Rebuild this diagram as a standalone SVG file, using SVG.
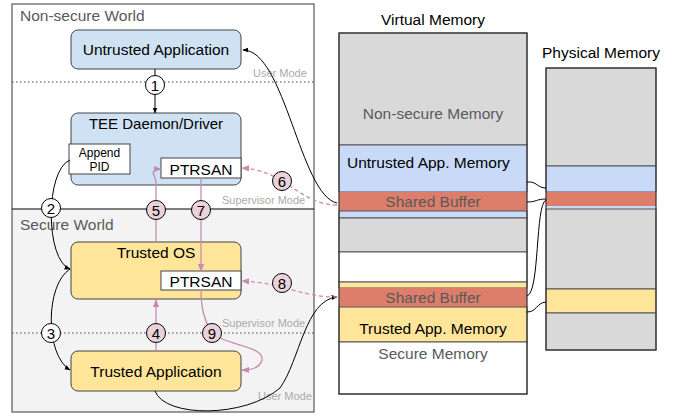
<svg xmlns="http://www.w3.org/2000/svg" width="678" height="416" viewBox="0 0 678 416">
  <style>
    text { font-family: "Liberation Sans", Arial, sans-serif; }
    .box { stroke: #434343; stroke-width: 1; }
    .blue { fill: #cfe2f3; }
    .yellow { fill: #ffe599; }
    .lbl { font-size: 15.5px; fill: #000; text-anchor: middle; }
    .world { font-size: 15.5px; fill: #595959; }
    .mode { font-size: 11px; fill: #aaaaaa; }
    .dot { stroke: #444; stroke-width: 1; stroke-dasharray: 1.5 2.5; fill: none; }
    .step { stroke: #000; stroke-width: 1; }
    .step-w { fill: #fff; }
    .step-p { fill: #ead1dc; }
    .num { font-size: 15px; text-anchor: middle; fill: #000; }
    .blk { stroke: #000; stroke-width: 1; fill: none; }
    .pink { stroke: #c98bb0; stroke-width: 1.3; fill: none; }
    .pdash { stroke: #c98bb0; stroke-width: 1.3; fill: none; stroke-dasharray: 4 3; }
    .seg { stroke: #555; stroke-width: 1; }
    .memtxt { font-size: 15.5px; text-anchor: middle; }
  </style>
  <defs>
    <marker id="ah" viewBox="0 0 10 10" refX="9" refY="5" markerWidth="6" markerHeight="6" orient="auto">
      <path d="M0,1 L10,5 L0,9 z" fill="#000"/>
    </marker>
    <marker id="ahp" viewBox="0 0 10 10" refX="9" refY="5" markerWidth="6" markerHeight="6" orient="auto">
      <path d="M0,1 L10,5 L0,9 z" fill="#c98bb0"/>
    </marker>
  </defs>

  <!-- World panels -->
  <g id="worlds">
    <rect x="12" y="4" width="302" height="205" fill="#fff"/>
    <rect x="12" y="209" width="302" height="203" fill="#f3f3f3"/>
    <rect x="12" y="4" width="302" height="408" fill="none" stroke="#595959" stroke-width="1.2"/>
    <line x1="12" y1="209" x2="314" y2="209" stroke="#000" stroke-width="1"/>
    <text class="world" x="20" y="21">Non-secure World</text>
    <text class="world" x="20" y="230">Secure World</text>
    <line class="dot" x1="12" y1="82" x2="314" y2="82"/>
    <line class="dot" x1="12" y1="333" x2="314" y2="333"/>
    <text class="mode" x="253" y="77">User Mode</text>
    <text class="mode" x="222" y="204">Supervisor Mode</text>
    <text class="mode" x="222" y="327">Supervisor Mode</text>
    <text class="mode" x="258" y="400">User Mode</text>
  </g>

  <!-- Nodes -->
  <g id="untrusted-app">
    <rect class="box blue" x="71" y="30" width="170" height="39" rx="7"/>
    <text class="lbl" x="156" y="55">Untrusted Application</text>
  </g>
  <g id="tee-driver">
    <rect class="box blue" x="71" y="113" width="170" height="72" rx="7"/>
    <text class="lbl" x="156" y="129" style="font-size:15px">TEE Daemon/Driver</text>
  </g>
  <g id="append-pid">
    <rect class="box" x="69" y="144" width="61" height="30" fill="#fff"/>
    <text class="lbl" x="99.5" y="157" style="font-size:12px">Append</text>
    <text class="lbl" x="99.5" y="171" style="font-size:12px">PID</text>
  </g>
  <g id="ptrsan-ns">
    <rect class="box" x="161" y="158" width="80" height="20" fill="#fff"/>
    <text class="lbl" x="201" y="175">PTRSAN</text>
  </g>
  <g id="trusted-os">
    <rect class="box yellow" x="71" y="242" width="170" height="57" rx="7"/>
    <text class="lbl" x="156" y="258">Trusted OS</text>
  </g>
  <g id="ptrsan-s">
    <rect class="box" x="161" y="271" width="80" height="19" fill="#fff"/>
    <text class="lbl" x="201" y="287">PTRSAN</text>
  </g>
  <g id="trusted-app">
    <rect class="box yellow" x="71" y="351" width="170" height="40" rx="7"/>
    <text class="lbl" x="156" y="377">Trusted Application</text>
  </g>

  <!-- Virtual memory column -->
  <g id="virtual-memory">
    <text class="lbl" x="433" y="25">Virtual Memory</text>
    <rect class="seg" x="339" y="33" width="188" height="112" fill="#d9d9d9"/>
    <rect class="seg" x="339" y="145" width="188" height="47" fill="#c9daf8"/>
    <rect x="339" y="192" width="188" height="19" fill="#dd7e6b"/>
    <rect class="seg" x="339" y="211" width="188" height="7" fill="#c9daf8"/>
    <rect class="seg" x="339" y="218" width="188" height="34" fill="#d9d9d9"/>
    <rect class="seg" x="339" y="252" width="188" height="30" fill="#fff"/>
    <rect class="seg" x="339" y="282" width="188" height="6" fill="#ffe599"/>
    <rect x="339" y="288" width="188" height="19" fill="#dd7e6b"/>
    <rect class="seg" x="339" y="307" width="188" height="35" fill="#ffe599"/>
    <rect class="seg" x="339" y="342" width="188" height="52" fill="#fff"/>
    <rect x="339" y="33" width="188" height="361" fill="none" stroke="#333" stroke-width="1.2"/>
    <text class="memtxt" x="433" y="119" fill="#595959">Non-secure Memory</text>
    <text class="memtxt" x="347" y="168" fill="#000" style="text-anchor:start">Untrusted App. Memory</text>
    <text class="memtxt" x="433" y="207" fill="#595959">Shared Buffer</text>
    <text class="memtxt" x="433" y="303" fill="#595959">Shared Buffer</text>
    <text class="memtxt" x="433" y="334" fill="#000">Trusted App. Memory</text>
    <text class="memtxt" x="433" y="359" fill="#595959">Secure Memory</text>
  </g>

  <!-- Physical memory column -->
  <g id="physical-memory">
    <text class="lbl" x="601" y="58">Physical Memory</text>
    <rect class="seg" x="546" y="68" width="110" height="98" fill="#d9d9d9"/>
    <rect class="seg" x="546" y="166" width="110" height="26" fill="#c9daf8"/>
    <rect x="546" y="192" width="110" height="14" fill="#dd7e6b"/>
    <rect x="546" y="206" width="110" height="3" fill="#c9daf8"/>
    <rect class="seg" x="546" y="209" width="110" height="80" fill="#d9d9d9"/>
    <rect class="seg" x="546" y="289" width="110" height="24" fill="#ffe599"/>
    <rect class="seg" x="546" y="313" width="110" height="37" fill="#d9d9d9"/>
    <rect x="546" y="68" width="110" height="282" fill="none" stroke="#333" stroke-width="1.2"/>
  </g>

  <!-- Connectors -->
  <g id="connectors">
    <!-- control flow -->
    <path class="blk" d="M155,69 L155,113" marker-end="url(#ah)"/>
    <path class="blk" d="M70,160 C45,170 45,260 70,269" marker-end="url(#ah)"/>
    <path class="blk" d="M70,269 C45,285 45,355 70,370" marker-end="url(#ah)"/>
    <!-- shared buffer mappings -->
    <path class="blk" d="M337,203 C300,195 285,50 243,50" marker-end="url(#ah)"/>
    <path class="blk" d="M155,391 C165,418 245,418 280,388 C300,360 305,300 337,297" marker-end="url(#ah)"/>
    <path class="blk" d="M527,182 C537,181 537,188 546,188"/>
    <path class="blk" d="M527,202 C537,202 536,199 546,199"/>
    <path class="blk" d="M527,296 C540,292 535,205 546,200"/>
    <path class="blk" d="M527,312 C537,312 536,303 546,302"/>
    <!-- sanitizer flow -->
    <path class="pink" d="M156,351 L156,300" marker-end="url(#ahp)"/>
    <path class="pink" d="M156,242 L156,183 C156,176 151,173 154,171 C156,169 158,169 161,169" marker-end="url(#ahp)"/>
    <path class="pink" d="M201,178 L201,271" marker-end="url(#ahp)"/>
    <path class="pink" d="M201,290 C201,310 205,320 210,330 C218,345 265,345 262,360 C260,368 250,370 242,370" marker-end="url(#ahp)"/>
    <path class="pdash" d="M337,205 C300,205 285,170 242,168" marker-end="url(#ahp)"/>
    <path class="pdash" d="M337,297 C300,297 285,283 242,281" marker-end="url(#ahp)"/>
  </g>

  <!-- Step markers -->
  <g id="step-1"><circle class="step step-w" cx="155" cy="85" r="9.5"/><text class="num" x="155" y="90.5">1</text></g>
  <g id="step-2"><circle class="step step-w" cx="51" cy="208" r="9.5"/><text class="num" x="51" y="213.5">2</text></g>
  <g id="step-3"><circle class="step step-w" cx="51" cy="333" r="9.5"/><text class="num" x="51" y="338.5">3</text></g>
  <g id="step-4"><circle class="step step-p" cx="156" cy="333" r="9.5"/><text class="num" x="156" y="338.5">4</text></g>
  <g id="step-5"><circle class="step step-p" cx="156" cy="210" r="9.5"/><text class="num" x="156" y="215.5">5</text></g>
  <g id="step-6"><circle class="step step-p" cx="282" cy="181" r="9.5"/><text class="num" x="282" y="186.5">6</text></g>
  <g id="step-7"><circle class="step step-p" cx="201" cy="210" r="9.5"/><text class="num" x="201" y="215.5">7</text></g>
  <g id="step-8"><circle class="step step-p" cx="282" cy="283" r="9.5"/><text class="num" x="282" y="288.5">8</text></g>
  <g id="step-9"><circle class="step step-p" cx="212" cy="333" r="9.5"/><text class="num" x="212" y="338.5">9</text></g>
</svg>
